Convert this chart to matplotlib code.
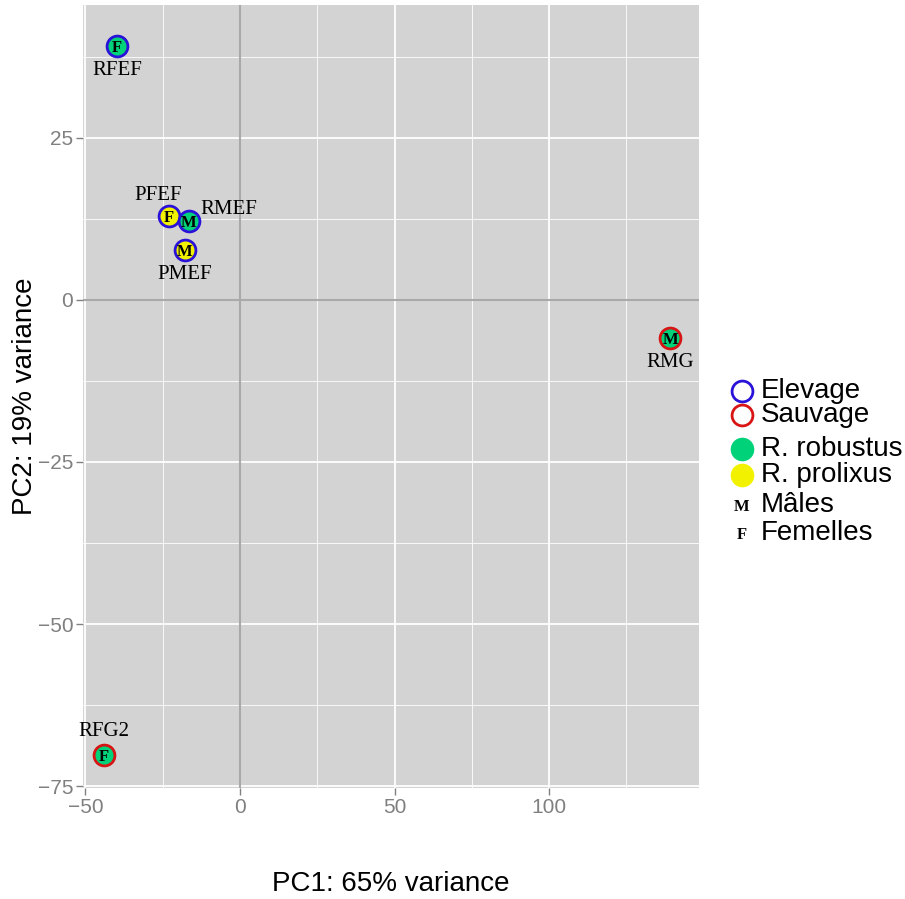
import matplotlib
matplotlib.use("Agg")
import matplotlib.pyplot as plt
from matplotlib.lines import Line2D
from matplotlib import font_manager

samples = ["RFEF", "PFEF", "RMEF", "PMEF", "RMG", "RFG2"]
pc1 = [-39.8, -23.0, -16.5, -17.8, 139.2, -44.0]
pc2 = [39.2, 13.0, 12.2, 7.7, -5.9, -70.2]
origin = ["Elevage", "Elevage", "Elevage", "Elevage", "Sauvage", "Sauvage"]
species = ["R. robustus", "R. prolixus", "R. robustus", "R. prolixus", "R. robustus", "R. robustus"]
sex = ["F", "F", "M", "M", "M", "F"]
label_pos = ["below", "aboveleft", "right", "below", "below", "above"]

x_ticks = [-50, 0, 50, 100]
y_ticks = [25, 0, -25, -50, -75]

edge_col = {"Elevage": "#2a12d8", "Sauvage": "#d81414"}
face_col = {"R. robustus": "#00d27a", "R. prolixus": "#f2f200"}

names = {f.name for f in font_manager.fontManager.ttflist}
tick_font = "Liberation Sans Narrow" if "Liberation Sans Narrow" in names else "Liberation Sans"
tick_size = 18 if tick_font == "Liberation Sans Narrow" else 15

fig = plt.figure(figsize=(9.05, 8.99), dpi=100)
ax = fig.add_axes([83/905, 1-788/899, (699-83)/905, (788-5)/899])
ax.set_facecolor("#d3d3d3")
ax.set_xlim(-50.8, 148.5)
ax.set_ylim(-75.3, 45.5)

# grid
for v in [-25, 25, 75, 125]:
    ax.axvline(v, color="white", lw=0.6, zorder=0)
for v in [37.5, 12.5, -12.5, -37.5, -62.5]:
    ax.axhline(v, color="white", lw=0.6, zorder=0)
for v in x_ticks:
    ax.axvline(v, color="white", lw=1.3, zorder=0)
for v in y_ticks:
    ax.axhline(v, color="white", lw=1.3, zorder=0)
ax.axvline(0, color="#a9a9a9", lw=1.5, zorder=1)
ax.axhline(0, color="#a9a9a9", lw=1.5, zorder=1)

for s in ax.spines.values():
    s.set_visible(False)

ax.set_xticks(x_ticks)
ax.set_yticks(y_ticks)
ax.set_xticklabels([str(t).replace("-", "\u2212") for t in x_ticks])
ax.set_yticklabels([str(t).replace("-", "\u2212") for t in y_ticks])
ax.tick_params(colors="#808080", labelsize=tick_size, length=5, width=1, pad=2)
for lab in ax.get_xticklabels() + ax.get_yticklabels():
    lab.set_family(tick_font)

ax.set_xlabel("PC1: 65% variance", fontsize=20, family="Liberation Sans", va="center")
ax.set_ylabel("PC2: 19% variance", fontsize=20, family="Liberation Sans", va="center")
ax.xaxis.set_label_coords(0.5, (788-884)/783)
ax.yaxis.set_label_coords((25-83)/616, 0.5)

offsets = {
    "below": (0, -11, "center", "top"),
    "above": (0, 10, "center", "bottom"),
    "aboveleft": (-8, 8, "center", "bottom"),
    "right": (8, 1, "left", "bottom"),
}

for x, y, o, sp, sx, name, lp in zip(pc1, pc2, origin, species, sex, samples, label_pos):
    ax.plot(x, y, "o", ms=15, mfc=face_col[sp], mec=edge_col[o], mew=2, zorder=3)
    ax.text(x, y, sx, ha="center", va="center_baseline", fontsize=12, fontweight="bold",
            family="Liberation Serif", zorder=4)
    dx, dy, ha, va = offsets[lp]
    ax.annotate(name, (x, y), xytext=(dx, dy), textcoords="offset points",
                ha=ha, va=va, fontsize=15, family="Liberation Serif", zorder=4)

# legend (manual)
leg_items = [
    ("Elevage", "circle", "none", edge_col["Elevage"], 391),
    ("Sauvage", "circle", "none", edge_col["Sauvage"], 415),
    ("R. robustus", "circle", face_col["R. robustus"], face_col["R. robustus"], 449),
    ("R. prolixus", "circle", face_col["R. prolixus"], face_col["R. prolixus"], 475),
    ("Mâles", "M", None, None, 505),
    ("Femelles", "F", None, None, 533),
]
for label, kind, fc, ec, ypx in leg_items:
    yf = 1 - ypx/899
    xm = 742/905
    if kind == "circle":
        fig.add_artist(Line2D([xm], [yf], marker="o", ms=15, mfc=fc, mec=ec, mew=2,
                              transform=fig.transFigure, linestyle="none"))
    else:
        fig.text(xm, yf, kind, ha="center", va="center_baseline", fontsize=12, fontweight="bold",
                 family="Liberation Serif")
    fig.text(761/905, yf, label, ha="left", va="center", fontsize=20, family="Liberation Sans")

fig.savefig("out.png", dpi=100, facecolor="white")
